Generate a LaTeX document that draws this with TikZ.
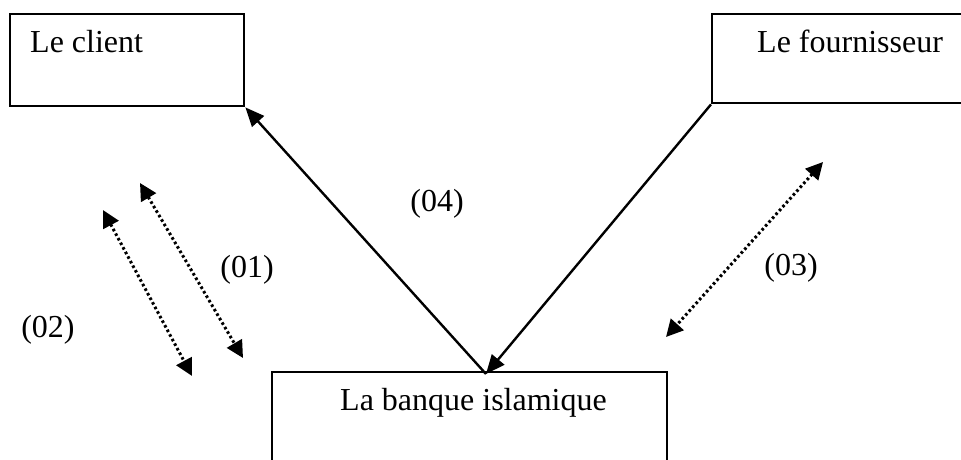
\documentclass[tikz,border=0pt]{standalone}
\usepackage{fontspec}
\setmainfont{Liberation Serif}
\usetikzlibrary{arrows.meta}

\tikzset{
  party/.style={draw, line width=2.4pt, rectangle, inner sep=0pt, anchor=north west},
  caption/.style={inner sep=0pt, font=\fontsize{32}{38}\selectfont},
  flow/.style={line width=2.4pt, -{Triangle[length=19pt, width=16pt]}},
  exchange/.style={line width=3pt, dash pattern=on 2.6pt off 2.6pt,
    {Triangle[length=17pt, width=17pt]}-{Triangle[length=17pt, width=17pt]}},
}

\begin{document}
\begin{tikzpicture}[x=1pt, y=-1pt]
  \useasboundingbox (0,0) rectangle (961,460);

  % the three parties
  \node[party, minimum width=234pt, minimum height=92pt] (client) at (9,13) {};
  \node[party, minimum width=270pt, minimum height=89pt] (fournisseur) at (711,13) {};
  \node[party, minimum width=395pt, minimum height=110pt] (banque) at (271,371) {};

  \node[caption, anchor=base west] (tclient) at (30,53) {Le client};
  \node[caption, anchor=base west] (tfournisseur) at (757,53) {Le fournisseur};
  \node[caption, anchor=base west] (tbanque) at (340,410) {La banque islamique};

  % meeting point of the two flows on the bank
  \coordinate (v) at (486,374);

  \draw[flow] (fournisseur.south west) -- (v);
  \draw[flow] (v) -- (client.south east);

  % dotted two-way exchanges
  \coordinate (a1) at (140,183);
  \coordinate (b1) at (243,358);
  \coordinate (a2) at (103,210);
  \coordinate (b2) at (192,376);
  \coordinate (a3) at (823,162);
  \coordinate (b3) at (666,337);

  \draw[exchange] (a1) -- (b1);
  \draw[exchange] (a2) -- (b2);
  \draw[exchange] (a3) -- (b3);

  % step numbers
  \node[caption] (s1) at (247,270) {(01)};
  \node[caption] (s2) at (48,330) {(02)};
  \node[caption] (s3) at (791,268) {(03)};
  \node[caption] (s4) at (437,204) {(04)};
\end{tikzpicture}
\end{document}
